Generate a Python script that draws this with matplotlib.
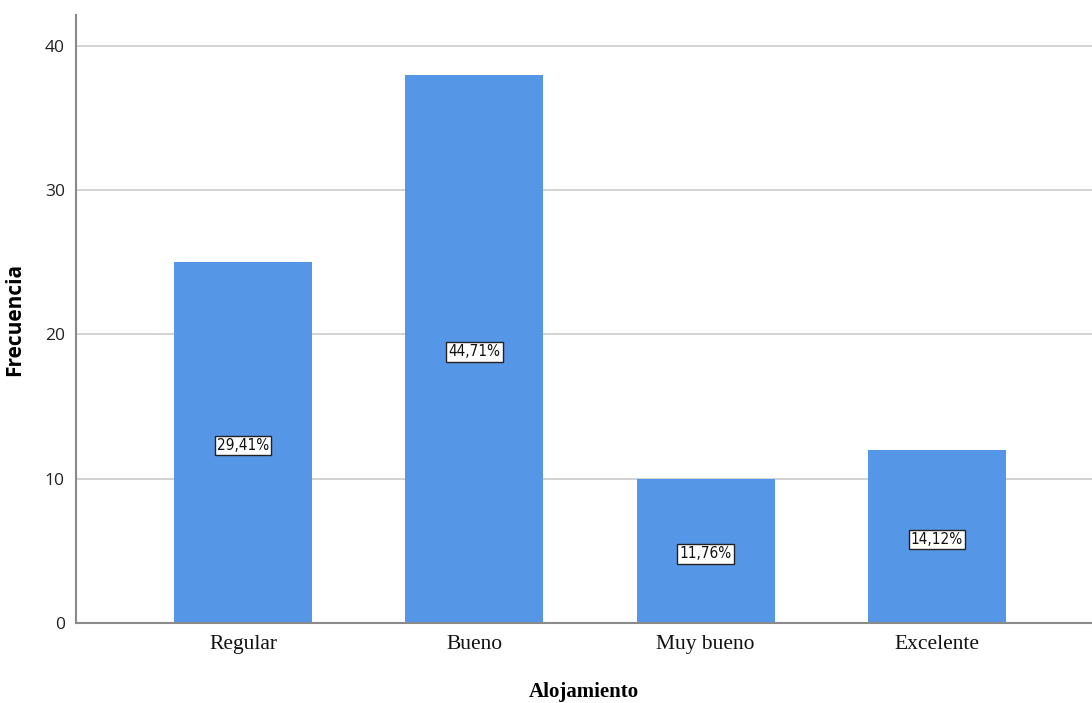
import matplotlib
matplotlib.use("Agg")
import matplotlib.pyplot as plt

categories = ["Regular", "Bueno", "Muy bueno", "Excelente"]
counts = [25, 38, 10, 12]
pct_labels = ["29,41%", "44,71%", "11,76%", "14,12%"]
yticks = [0, 10, 20, 30, 40]

fig = plt.figure(figsize=(10.92, 7.03), dpi=100)
ax = fig.add_axes([0.0696, 0.1138, 0.9304, 0.8649])

x = list(range(len(categories)))
ax.bar(x, counts, width=0.597, color="#5596E6", zorder=2)

for xi, c, lab in zip(x, counts, pct_labels):
    ax.text(xi, c / 2 - 0.2, lab, ha="center", va="center", fontsize=11,
            family="DejaVu Sans", stretch="condensed", color="#111111", zorder=3,
            bbox=dict(boxstyle="square,pad=0.15", facecolor="white",
                      edgecolor="#222222", linewidth=1.0))

ax.set_xlim(-0.722, 3.67)
ax.set_ylim(0, 42.15)
ax.set_yticks(yticks)
ax.set_yticklabels([str(t) for t in yticks], fontsize=12.5, family="Open Sans", color="#222222")
ax.set_xticks(x)
ax.set_xticklabels(categories, fontsize=15.5, family="Liberation Serif", color="#111111")
ax.tick_params(axis="both", length=0)
ax.tick_params(axis="x", pad=9)
ax.tick_params(axis="y", pad=8)

ax.yaxis.grid(True, color="#cfcfcf", linewidth=1.3, zorder=0)
ax.set_axisbelow(True)
for s in ["top", "right"]:
    ax.spines[s].set_visible(False)
ax.spines["left"].set_color("#8a8a8a")
ax.spines["left"].set_linewidth(1.5)
ax.spines["bottom"].set_color("#8a8a8a")
ax.spines["bottom"].set_linewidth(1.5)

ax.set_ylabel("Frecuencia", fontsize=15, family="Open Sans", fontweight="bold", labelpad=14)
ax.set_xlabel("Alojamiento", fontsize=15, family="Liberation Serif", fontweight="bold", labelpad=20)

fig.savefig("out.png", dpi=100)
